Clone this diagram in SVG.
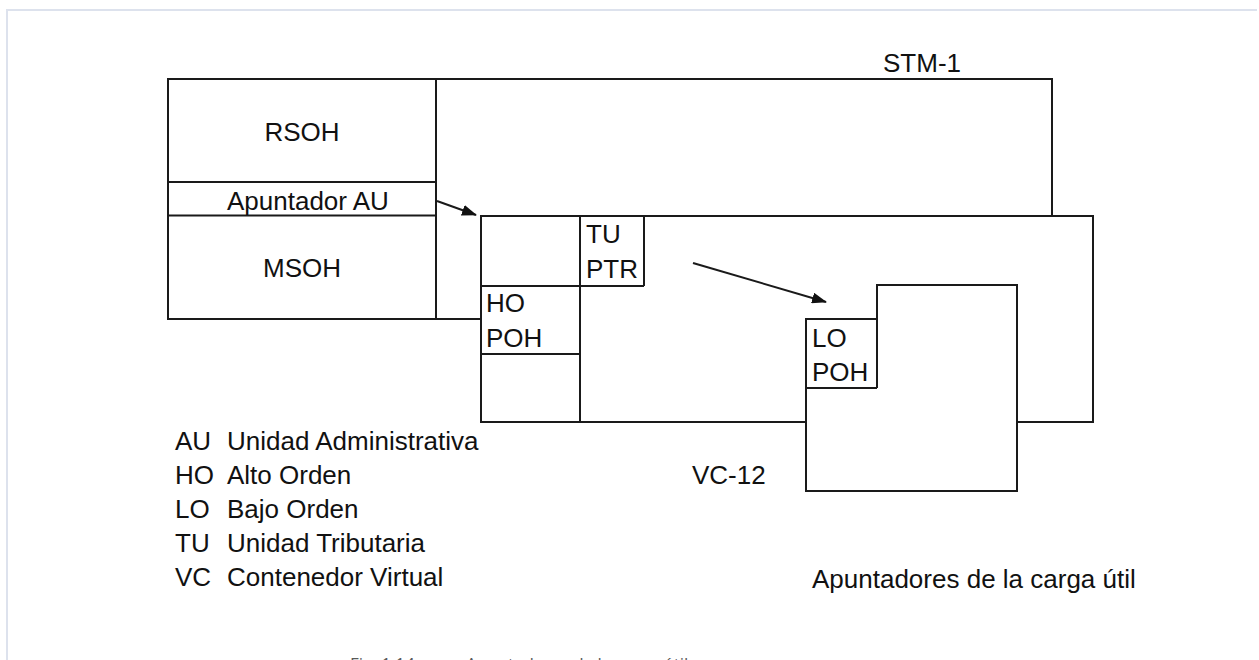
<svg xmlns="http://www.w3.org/2000/svg" width="1259" height="660" viewBox="0 0 1259 660">
  <style>
    .box { fill: #ffffff; stroke: #1a1a1a; stroke-width: 2; }
    .ln { fill: none; stroke: #1a1a1a; stroke-width: 2; }
    .t { font-family: "Liberation Sans", Arial, sans-serif; font-size: 26px; fill: #111111; }
    .mid { text-anchor: middle; }
    .cap { font-family: "Open Sans", "Liberation Sans", sans-serif; font-size: 17px; fill: #595959; }
    .conn { fill: none; stroke: #1a1a1a; stroke-width: 2; }
  </style>
  <defs>
    <marker id="arrow" viewBox="0 0 15 11" refX="14" refY="5.5" markerWidth="15" markerHeight="11" markerUnits="userSpaceOnUse" orient="auto">
      <path d="M0,0 L15,5.5 L0,11 Z" fill="#111111"/>
    </marker>
  </defs>
  <rect width="1259" height="660" fill="#ffffff"/>
  <path d="M7,660 V10 H1257" fill="none" stroke="#dde2ed" stroke-width="2"/>

  <g id="stm1">
    <rect class="box" x="168" y="79" width="884" height="240"/>
    <line class="ln" x1="436" y1="79" x2="436" y2="319"/>
    <line class="ln" x1="168" y1="182" x2="436" y2="182"/>
    <line class="ln" x1="168" y1="215.5" x2="436" y2="215.5"/>
    <text class="t" x="883" y="72">STM-1</text>
    <text class="t mid" x="302" y="141">RSOH</text>
    <text class="t" x="227" y="210">Apuntador AU</text>
    <text class="t mid" x="302" y="277">MSOH</text>
  </g>

  <g id="vc4">
    <rect class="box" x="481" y="216" width="612" height="206"/>
    <line class="ln" x1="580" y1="216" x2="580" y2="422"/>
    <line class="ln" x1="481" y1="286" x2="644" y2="286"/>
    <line class="ln" x1="644" y1="216" x2="644" y2="286"/>
    <line class="ln" x1="481" y1="354" x2="580" y2="354"/>
    <text class="t" x="586" y="243">TU</text>
    <text class="t" x="586" y="278">PTR</text>
    <text class="t" x="486" y="312">HO</text>
    <text class="t" x="486" y="347">POH</text>
  </g>

  <g id="vc12">
    <path class="box" d="M806,319 H877 V285 H1017 V491 H806 Z"/>
    <line class="ln" x1="877" y1="319" x2="877" y2="388"/>
    <line class="ln" x1="806" y1="388" x2="877" y2="388"/>
    <text class="t" x="812" y="347">LO</text>
    <text class="t" x="812" y="381">POH</text>
    <text class="t" x="692" y="484">VC-12</text>
  </g>

  <g id="connectors">
    <line class="conn" x1="437" y1="201" x2="476" y2="215" marker-end="url(#arrow)"/>
    <line class="conn" x1="693" y1="263" x2="826" y2="302" marker-end="url(#arrow)"/>
  </g>

  <g id="legend">
    <text class="t" x="175" y="450">AU</text>
    <text class="t" x="227" y="450">Unidad Administrativa</text>
    <text class="t" x="175" y="484">HO</text>
    <text class="t" x="227" y="484">Alto Orden</text>
    <text class="t" x="175" y="518">LO</text>
    <text class="t" x="227" y="518">Bajo Orden</text>
    <text class="t" x="175" y="552">TU</text>
    <text class="t" x="227" y="552">Unidad Tributaria</text>
    <text class="t" x="175" y="586">VC</text>
    <text class="t" x="227" y="586">Contenedor Virtual</text>
  </g>

  <g id="title">
    <text class="t" x="812" y="588">Apuntadores de la carga útil</text>
  </g>

  <g id="caption">
    <text class="cap" x="350" y="670">Fig. 1.14</text>
    <text class="cap" x="466" y="670">Apuntadores de la carga útil</text>
  </g>
</svg>
